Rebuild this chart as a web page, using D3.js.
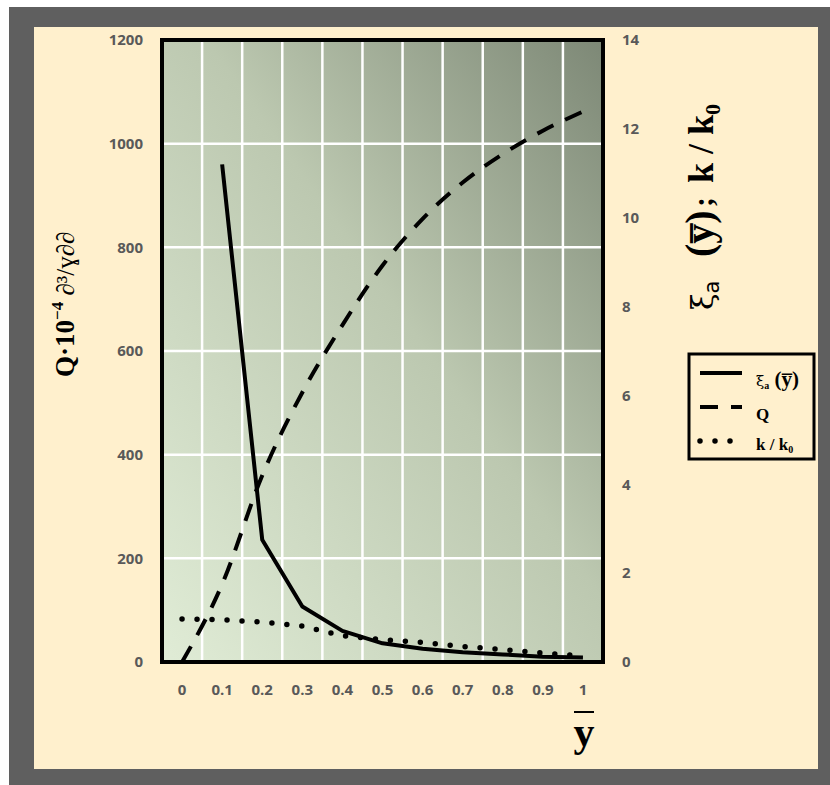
<!DOCTYPE html>
<meta charset="utf-8">
<style>
body { margin: 0; background: #fff; }
.tick-label { font: bold 15px "Open Sans", sans-serif; fill: #595959; }
.title { font-family: "Liberation Serif", serif; font-weight: bold; fill: #000; }
</style>
<body>
<script src="https://cdn.jsdelivr.net/npm/d3@7"></script>
<script>

// data
var xLabels = ["0", "0.1", "0.2", "0.3", "0.4", "0.5", "0.6", "0.7", "0.8", "0.9", "1"];
var qVals  = [0, 150, 360, 520, 650, 765, 855, 925, 980, 1025, 1062];          // left axis, dashed
var xiVals = [null, 11.2, 2.75, 1.25, 0.7, 0.42, 0.3, 0.22, 0.17, 0.12, 0.1];  // right axis, solid
var kVals  = [0.97, 0.95, 0.9, 0.81, 0.59, 0.5, 0.44, 0.35, 0.28, 0.2, 0.14];  // right axis, dotted
var leftTicks = [0, 200, 400, 600, 800, 1000, 1200];
var rightTicks = [0, 2, 4, 6, 8, 10, 12, 14];

var W = 830, H = 785;
var plot = {left: 162, right: 603, top: 40, bottom: 662};

var svg = d3.select("body").append("svg")
    .attr("width", W)
    .attr("height", H);

// frame + cream panel
svg.append("rect").attr("x", 9).attr("y", 7).attr("width", W - 9).attr("height", H - 7).attr("fill", "#5f5f5f");
svg.append("rect").attr("x", 34).attr("y", 27).attr("width", 784).attr("height", 742).attr("fill", "#fff0cd");

var defs = svg.append("defs");
var grad = defs.append("linearGradient").attr("id", "bg")
    .attr("x1", 0).attr("y1", 1).attr("x2", 1).attr("y2", 0);
grad.append("stop").attr("offset", "0%").attr("stop-color", "#e0ecd6");
grad.append("stop").attr("offset", "55%").attr("stop-color", "#bcc8b0");
grad.append("stop").attr("offset", "100%").attr("stop-color", "#7d8876");

var xScale = d3.scaleBand().domain(xLabels).range([plot.left, plot.right]);
var yLeft = d3.scaleLinear().domain([0, 1200]).range([plot.bottom, plot.top]);
var yRight = d3.scaleLinear().domain([0, 14]).range([plot.bottom, plot.top]);
var cx = function(i) { return xScale(xLabels[i]) + xScale.bandwidth() / 2; };

svg.append("rect")
    .attr("x", plot.left).attr("y", plot.top)
    .attr("width", plot.right - plot.left).attr("height", plot.bottom - plot.top)
    .attr("fill", "url(#bg)");

// grid
svg.append("g").selectAll("line")
    .data(xLabels.slice(1))
  .enter().append("line")
    .attr("x1", function(d) { return xScale(d); })
    .attr("x2", function(d) { return xScale(d); })
    .attr("y1", plot.top).attr("y2", plot.bottom)
    .attr("stroke", "#fff").attr("stroke-width", 2.5);

svg.append("g").selectAll("line")
    .data(leftTicks.slice(1, -1))
  .enter().append("line")
    .attr("x1", plot.left).attr("x2", plot.right)
    .attr("y1", function(d) { return yLeft(d); })
    .attr("y2", function(d) { return yLeft(d); })
    .attr("stroke", "#fff").attr("stroke-width", 2.5);

// series
var lineQ = d3.line()
    .x(function(d, i) { return cx(i); })
    .y(function(d) { return yLeft(d); })
    .curve(d3.curveMonotoneX);

var lineR = d3.line()
    .defined(function(d) { return d != null; })
    .x(function(d, i) { return cx(i); })
    .y(function(d) { return yRight(d); });

svg.append("path").datum(kVals)
    .attr("d", lineR).attr("fill", "none")
    .attr("stroke", "#000").attr("stroke-width", 5.5)
    .attr("stroke-linecap", "round").attr("stroke-dasharray", "0,15");

svg.append("path").datum(xiVals)
    .attr("d", lineR).attr("fill", "none")
    .attr("stroke", "#000").attr("stroke-width", 4)
    .attr("stroke-linejoin", "round");

svg.append("path").datum(qVals)
    .attr("d", lineQ).attr("fill", "none")
    .attr("stroke", "#000").attr("stroke-width", 4)
    .attr("stroke-dasharray", "18,13");

// border
svg.append("rect")
    .attr("x", plot.left).attr("y", plot.top)
    .attr("width", plot.right - plot.left).attr("height", plot.bottom - plot.top)
    .attr("fill", "none").attr("stroke", "#000").attr("stroke-width", 4);

// axes (labels only)
var axL = svg.append("g")
    .attr("transform", "translate(" + (plot.left - 19) + ",0)")
    .call(d3.axisLeft(yLeft).tickValues(leftTicks).tickFormat(d3.format("d")).tickSize(0).tickPadding(0));
var axR = svg.append("g")
    .attr("transform", "translate(" + (plot.right + 19) + ",0)")
    .call(d3.axisRight(yRight).tickValues(rightTicks).tickFormat(d3.format("d")).tickSize(0).tickPadding(0));
var axB = svg.append("g")
    .attr("transform", "translate(0," + (plot.bottom + 22) + ")")
    .call(d3.axisBottom(xScale).tickSize(0).tickPadding(0));

[axL, axR, axB].forEach(function(a) {
  a.select(".domain").remove();
  a.selectAll("text").attr("class", "tick-label").attr("fill", null);
});

// left title
var tl = svg.append("text").attr("class", "title")
    .attr("transform", "translate(74,377) rotate(-90)")
    .attr("font-size", 27);
tl.append("tspan").text("Q·10");
tl.append("tspan").attr("dy", -11).attr("font-size", 17).text("−4");
tl.append("tspan").attr("dy", 11).attr("font-size", 25).attr("font-weight", "normal").text(" ∂³/ɣ∂∂");

// right title, pieces placed along the rotated baseline
var tr = svg.append("g").attr("transform", "translate(713,0) rotate(-90)");
var xi = tr.append("text").attr("class", "title").attr("x", -310).attr("y", 0);
xi.append("tspan").attr("font-weight", "normal").attr("font-family", "DejaVu Serif").attr("font-size", 30).text("ξ");
xi.append("tspan").attr("dy", 6).attr("font-size", 21).attr("font-weight", "normal").attr("font-family", "DejaVu Sans").text("a");
tr.append("text").attr("class", "title").attr("x", -257).attr("y", 0)
    .attr("font-size", 40).text("(y\u0305)");
tr.append("text").attr("class", "title").attr("x", -207).attr("y", 0)
    .attr("font-size", 30).text(";");
var kk = tr.append("text").attr("class", "title").attr("x", -183).attr("y", 0).attr("font-size", 36);
kk.append("tspan").text("k / k");
kk.append("tspan").attr("dy", 7).attr("font-size", 22).text("0");

// x title
svg.append("line")
    .attr("x1", 574).attr("x2", 594).attr("y1", 712).attr("y2", 712)
    .attr("stroke", "#000").attr("stroke-width", 2);
svg.append("text").attr("class", "title")
    .attr("x", 584).attr("y", 746)
    .attr("text-anchor", "middle")
    .attr("font-size", 42)
    .text("y");

// legend
var lg = svg.append("g");
lg.append("rect").attr("x", 689).attr("y", 354).attr("width", 125).attr("height", 105)
    .attr("fill", "#fff0cd").attr("stroke", "#000").attr("stroke-width", 3);

var legendItems = [
  {y: 373, dash: null, w: 4, cap: "butt"},
  {y: 407, dash: "18,13", w: 4, cap: "butt"},
  {y: 441, dash: "0,15", w: 5.5, cap: "round"}
];
lg.selectAll(".lline").data(legendItems).enter().append("line")
    .attr("x1", 700).attr("x2", 742)
    .attr("y1", function(d) { return d.y; }).attr("y2", function(d) { return d.y; })
    .attr("stroke", "#000")
    .attr("stroke-width", function(d) { return d.w; })
    .attr("stroke-linecap", function(d) { return d.cap; })
    .attr("stroke-dasharray", function(d) { return d.dash; });

var t1 = lg.append("text").attr("class", "title").attr("x", 756).attr("y", 386).attr("font-size", 21);
t1.append("tspan").attr("font-weight", "normal").attr("font-family", "DejaVu Serif").attr("font-size", 15).text("ξ");
t1.append("tspan").attr("dy", 3).attr("font-size", 10).text("a");
t1.append("tspan").attr("dy", -3).text(" (y\u0305)");
lg.append("text").attr("class", "title").attr("x", 756).attr("y", 420).attr("font-size", 17).text("Q");
var t3 = lg.append("text").attr("class", "title").attr("x", 756).attr("y", 450).attr("font-size", 17);
t3.append("tspan").text("k / k");
t3.append("tspan").attr("dy", 3).attr("font-size", 10).text("0");

</script>
</body>
